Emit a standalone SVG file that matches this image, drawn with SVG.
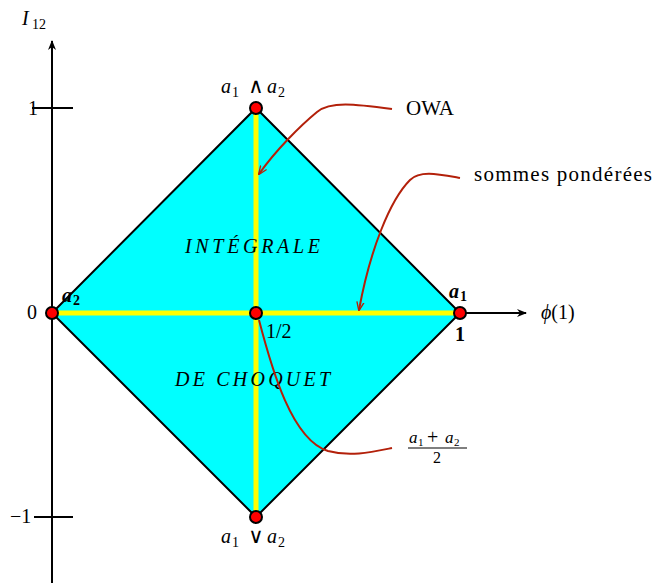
<svg xmlns="http://www.w3.org/2000/svg" width="654" height="588" viewBox="0 0 654 588">
<style>
text{font-family:"Liberation Serif","DejaVu Serif",serif;fill:#000}
.m{font-style:italic}
.lbl{font-size:20px}
.sub{font-size:14px;font-style:normal}
.op{font-family:"DejaVu Serif",serif;font-size:21px}
.ax{stroke:#000;stroke-width:2;fill:none}
.dot{fill:#ff0000;stroke:#000;stroke-width:2}
.red{stroke:#b3200a;stroke-width:2;fill:none}
.yel{stroke:#ffff00;stroke-width:5}
</style>
<defs>
<marker id="ah" viewBox="0 0 10 10" refX="9" refY="5" markerWidth="10" markerHeight="10" markerUnits="userSpaceOnUse" orient="auto">
<path d="M0,1 L10,5 L0,9 L3,5 Z" fill="#000"/>
</marker>
<marker id="rh" viewBox="0 0 10 10" refX="9" refY="5" markerWidth="9" markerHeight="9" markerUnits="userSpaceOnUse" orient="auto">
<path d="M0,1 L10,5 L0,9" fill="none" stroke="#b3200a" stroke-width="1.5"/>
</marker>
</defs>
<g id="axes">
<line class="ax" x1="52" y1="583" x2="52" y2="41" marker-end="url(#ah)"/>
<line class="ax" x1="460" y1="313" x2="526" y2="313" marker-end="url(#ah)"/>
<line class="ax" x1="32" y1="108" x2="73" y2="108"/>
<line class="ax" x1="34" y1="517" x2="73" y2="517"/>
<text class="lbl m" x="22" y="25">I</text>
<text class="sub" x="32" y="29">12</text>
<text class="lbl" x="28" y="115">1</text>
<text class="lbl" x="27" y="319">0</text>
<text class="lbl" x="10" y="523">−1</text>
<text class="lbl" x="541" y="319"><tspan class="m">ϕ</tspan>(1)</text>
</g>
<g id="diamond">
<polygon points="52,313 256,108 460,313 256,517" fill="#00ffff" stroke="#000" stroke-width="2"/>
<line class="yel" x1="52" y1="313" x2="460" y2="313"/>
<line class="yel" x1="256" y1="108" x2="256" y2="517"/>
<text class="m" x="185" y="253" font-size="20" textLength="135" lengthAdjust="spacing">INTÉGRALE</text>
<text class="m" x="175" y="386" font-size="20" textLength="155" lengthAdjust="spacing">DE CHOQUET</text>
</g>
<g id="connectors">
<path class="red" d="M392,109 C355,104 330,101 317,112 C300,126 276,150 259,174" marker-end="url(#rh)"/>
<path class="red" d="M460,178 C438,174 420,170 410,180 C390,200 370,250 359,310" marker-end="url(#rh)"/>
<path class="red" d="M259,320 C272,370 292,440 328,451 C350,457 372,452 392,448"/>
</g>
<g id="node-top">
<circle class="dot" cx="256" cy="108" r="6"/>
<text class="lbl m" x="221" y="93">a</text>
<text class="sub" x="232" y="97">1</text>
<text class="op" x="256" y="93" text-anchor="middle">∧</text>
<text class="lbl m" x="267" y="93">a</text>
<text class="sub" x="278" y="97">2</text>
</g>
<g id="node-bottom">
<circle class="dot" cx="256" cy="517" r="6"/>
<text class="lbl m" x="221" y="543">a</text>
<text class="sub" x="232" y="547">1</text>
<text class="op" x="256" y="543" text-anchor="middle">∨</text>
<text class="lbl m" x="267" y="543">a</text>
<text class="sub" x="278" y="547">2</text>
</g>
<g id="node-left">
<circle class="dot" cx="52" cy="313" r="6"/>
<text class="lbl m" x="62" y="302" font-weight="bold">a</text>
<text class="sub" x="73" y="305" font-weight="bold">2</text>
</g>
<g id="node-right">
<circle class="dot" cx="460" cy="313" r="6"/>
<text class="lbl m" x="449" y="298" font-weight="bold">a</text>
<text class="sub" x="460" y="301" font-weight="bold">1</text>
<text class="lbl" x="455" y="341" font-weight="bold">1</text>
</g>
<g id="node-center">
<circle class="dot" cx="256" cy="313" r="6"/>
<text class="lbl" x="266" y="338">1/2</text>
</g>
<g id="label-owa">
<text x="406" y="115" font-size="21">OWA</text>
</g>
<g id="label-sommes">
<text x="474" y="181" font-size="21" textLength="178" lengthAdjust="spacing">sommes pondérées</text>
</g>
<g id="label-mean">
<text class="m" x="409" y="443" font-size="17">a</text>
<text x="418" y="446" font-size="11">1</text>
<text x="427" y="444" font-size="20">+</text>
<text class="m" x="445" y="443" font-size="17">a</text>
<text x="454" y="446" font-size="11">2</text>
<line x1="408" y1="448" x2="467" y2="448" stroke="#000" stroke-width="1.2"/>
<text x="437" y="463" font-size="16" text-anchor="middle">2</text>
</g>
</svg>
